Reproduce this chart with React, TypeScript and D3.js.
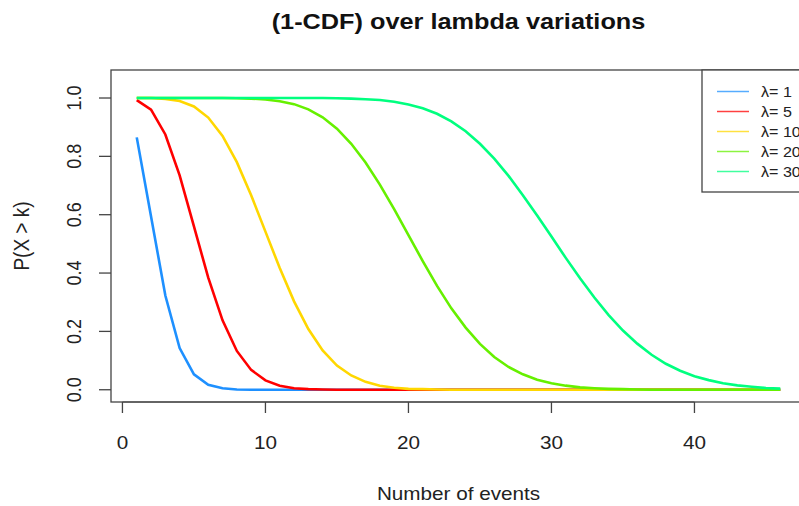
import React, { useRef, useEffect } from "react";
import * as d3 from "d3";

// number of events k = 1..46
const events = d3.range(1, 47);

const lambdas = ["1", "5", "10", "20", "30"];
const colors = ["#1E90FF", "#FF0000", "#FFD700", "#66F000", "#00FF7F"];

// P(X > k), one value per k
const tail1 = [0.865, 0.594, 0.323, 0.143, 0.053, 0.017, 0.005, 0.001, 0, 0, 0, 0, 0, 0, 0, 0, 0, 0, 0, 0, 0, 0, 0, 0, 0, 0, 0, 0, 0, 0, 0, 0, 0, 0, 0, 0, 0, 0, 0, 0, 0, 0, 0, 0, 0, 0];
const tail5 = [0.993, 0.96, 0.875, 0.735, 0.56, 0.384, 0.238, 0.133, 0.068, 0.032, 0.014, 0.005, 0.002, 0.001, 0, 0, 0, 0, 0, 0, 0, 0, 0, 0, 0, 0, 0, 0, 0, 0, 0, 0, 0, 0, 0, 0, 0, 0, 0, 0, 0, 0, 0, 0, 0, 0];
const tail10 = [1, 1, 0.997, 0.99, 0.971, 0.933, 0.87, 0.78, 0.667, 0.542, 0.417, 0.303, 0.208, 0.135, 0.083, 0.049, 0.027, 0.014, 0.007, 0.003, 0.002, 0.001, 0, 0, 0, 0, 0, 0, 0, 0, 0, 0, 0, 0, 0, 0, 0, 0, 0, 0, 0, 0, 0, 0, 0, 0];
const tail20 = [1, 1, 1, 1, 1, 1, 1, 0.999, 0.998, 0.995, 0.989, 0.979, 0.961, 0.934, 0.895, 0.843, 0.779, 0.703, 0.619, 0.53, 0.441, 0.356, 0.279, 0.213, 0.157, 0.112, 0.078, 0.053, 0.034, 0.022, 0.014, 0.008, 0.005, 0.003, 0.002, 0.001, 0, 0, 0, 0, 0, 0, 0, 0, 0, 0];
const tail30 = [1, 1, 1, 1, 1, 1, 1, 1, 1, 1, 1, 1, 1, 1, 0.999, 0.998, 0.996, 0.993, 0.987, 0.978, 0.965, 0.946, 0.92, 0.886, 0.843, 0.792, 0.733, 0.667, 0.597, 0.525, 0.452, 0.382, 0.316, 0.256, 0.203, 0.158, 0.12, 0.089, 0.065, 0.046, 0.033, 0.022, 0.015, 0.01, 0.006, 0.004];

const series = [tail1, tail5, tail10, tail20, tail30];

const xTicks = [0, 10, 20, 30, 40];
const yTicks = [0, 0.2, 0.4, 0.6, 0.8, 1.0];

const width = 799;
const height = 506;
const box = { left: 111, top: 70, right: 806, bottom: 402 };
const sx = 1.15; // text in the picture is a bit wide
const font = "Liberation Sans, Arial, sans-serif";

const App: React.FC = () => {
  const svg = useRef<SVGSVGElement>(null);

  useEffect(() => {
    const root = d3.select(svg.current);
    root.selectAll("*").remove();

    const x = d3.scaleLinear().domain([-0.8, 47.8]).range([box.left, box.right]);
    const y = d3.scaleLinear().domain([-0.042, 1.096]).range([box.bottom, box.top]);

    const line = d3
      .line<number>()
      .x((_, i) => x(events[i]))
      .y(d => y(d));

    // curves, later ones on top
    root
      .append("g")
      .selectAll("path")
      .data(series)
      .enter()
      .append("path")
      .attr("d", d => line(d))
      .attr("fill", "none")
      .attr("stroke", (_, i) => colors[i])
      .attr("stroke-width", 2.6);

    // box
    root
      .append("rect")
      .attr("x", box.left)
      .attr("y", box.top)
      .attr("width", box.right - box.left)
      .attr("height", box.bottom - box.top)
      .attr("fill", "none")
      .attr("stroke", "#444")
      .attr("stroke-width", 1.3);

    // x axis
    const gx = root.append("g");
    gx.append("line")
      .attr("x1", x(xTicks[0]))
      .attr("x2", x(xTicks[xTicks.length - 1]))
      .attr("y1", box.bottom)
      .attr("y2", box.bottom)
      .attr("stroke", "#444");
    gx.selectAll("line.tick")
      .data(xTicks)
      .enter()
      .append("line")
      .attr("class", "tick")
      .attr("x1", d => x(d))
      .attr("x2", d => x(d))
      .attr("y1", box.bottom)
      .attr("y2", box.bottom + 11)
      .attr("stroke", "#444")
      .attr("stroke-width", 1.3);
    gx.selectAll("text")
      .data(xTicks)
      .enter()
      .append("text")
      .attr("transform", d => `translate(${x(d)},449) scale(${sx},1)`)
      .attr("text-anchor", "middle")
      .attr("font-family", font)
      .attr("font-size", 18)
      .attr("fill", "#222")
      .text(d => d);

    // y axis
    const gy = root.append("g");
    gy.selectAll("line.tick")
      .data(yTicks)
      .enter()
      .append("line")
      .attr("class", "tick")
      .attr("x1", box.left - 12)
      .attr("x2", box.left)
      .attr("y1", d => y(d))
      .attr("y2", d => y(d))
      .attr("stroke", "#444")
      .attr("stroke-width", 1.3);
    gy.selectAll("text")
      .data(yTicks)
      .enter()
      .append("text")
      .attr("transform", d => `translate(81,${y(d)}) scale(${sx},1) rotate(-90)`)
      .attr("text-anchor", "middle")
      .attr("font-family", font)
      .attr("font-size", 18)
      .attr("fill", "#222")
      .text(d => d3.format(".1f")(d));

    // titles
    root
      .append("text")
      .attr("transform", `translate(${(box.left + box.right) / 2},29) scale(${sx},1)`)
      .attr("text-anchor", "middle")
      .attr("font-family", font)
      .attr("font-weight", "bold")
      .attr("font-size", 22)
      .attr("fill", "#111")
      .text("(1-CDF) over lambda variations");

    root
      .append("text")
      .attr("transform", `translate(${(box.left + box.right) / 2},500) scale(${sx},1)`)
      .attr("text-anchor", "middle")
      .attr("font-family", font)
      .attr("font-size", 18)
      .attr("fill", "#222")
      .text("Number of events");

    root
      .append("text")
      .attr("transform", `translate(29,${(box.top + box.bottom) / 2}) scale(${sx},1) rotate(-90)`)
      .attr("text-anchor", "middle")
      .attr("font-family", font)
      .attr("font-size", 19)
      .attr("fill", "#222")
      .text("P(X > k)");

    // legend
    const legend = root.append("g");
    legend
      .append("rect")
      .attr("x", 702)
      .attr("y", box.top)
      .attr("width", 120)
      .attr("height", 122)
      .attr("fill", "white")
      .attr("stroke", "#444")
      .attr("stroke-width", 1.3);
    const rows = legend
      .selectAll("g.row")
      .data(lambdas)
      .enter()
      .append("g")
      .attr("class", "row")
      .attr("transform", (_, i) => `translate(0,${91.5 + i * 20})`);
    rows
      .append("line")
      .attr("x1", 717)
      .attr("x2", 749)
      .attr("stroke", (_, i) => colors[i])
      .attr("stroke-opacity", 0.75)
      .attr("stroke-width", 1.5);
    rows
      .append("text")
      .attr("transform", `translate(761,5) scale(${sx},1)`)
      .attr("font-family", font)
      .attr("font-size", 14)
      .attr("fill", "#222")
      .text(d => `λ= ${d}`);
  }, []);

  return (
    <svg
      ref={svg}
      width={width}
      height={height}
      style={{ position: "absolute", left: 0, top: 0, background: "white" }}
    />
  );
};

export default App;
